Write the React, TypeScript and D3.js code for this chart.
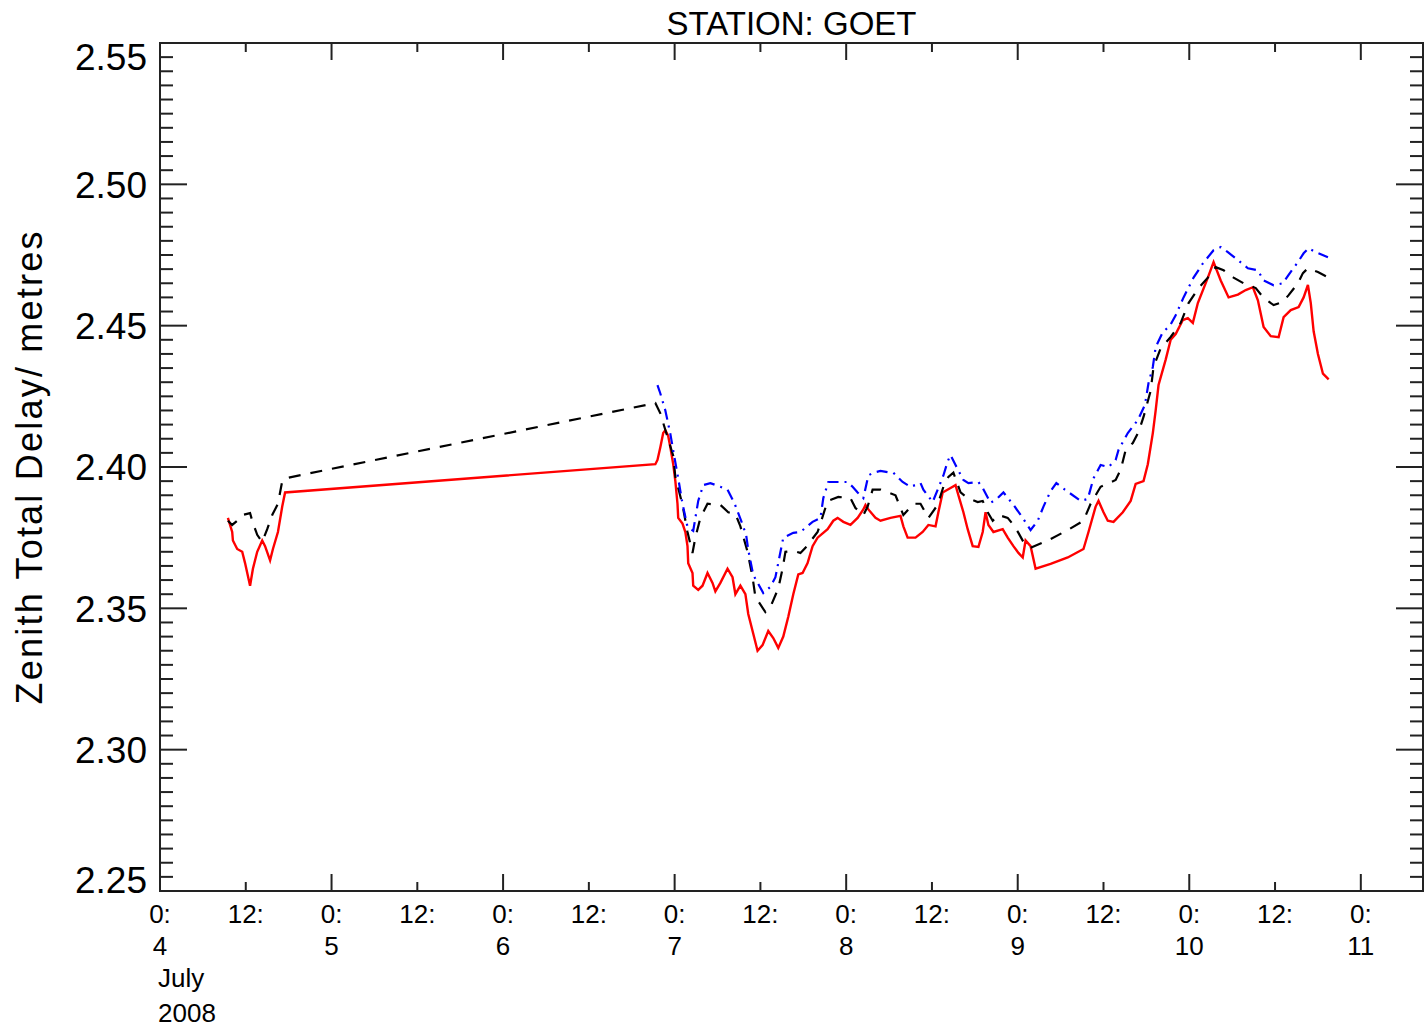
import React from 'react'
import * as d3 from 'd3'

// hours since 2008-07-04 00:00, zenith total delay in metres
const redSeries: [number, number][] = [
  [9.5, 2.382], [10.1, 2.377], [10.2, 2.374], [10.8, 2.371], [11.5, 2.370], [11.9, 2.366],
  [12.6, 2.358], [13.0, 2.364], [13.6, 2.370], [14.3, 2.374], [14.7, 2.372], [15.4, 2.367],
  [15.8, 2.371], [16.5, 2.377], [17.1, 2.386], [17.5, 2.391], [69.3, 2.401], [69.6, 2.4025],
  [70.0, 2.407], [70.4, 2.412], [70.7, 2.413], [71.1, 2.411], [71.4, 2.407], [71.8, 2.401],
  [72.1, 2.395], [72.4, 2.387], [72.5, 2.382], [73.1, 2.380], [73.5, 2.377], [73.8, 2.372],
  [73.9, 2.366], [74.5, 2.3625], [74.6, 2.358], [75.3, 2.3565], [75.9, 2.358], [76.6, 2.3625],
  [77.3, 2.359], [77.7, 2.356], [78.4, 2.359], [79.4, 2.364], [80.1, 2.361], [80.5, 2.355],
  [81.2, 2.358], [81.9, 2.355], [82.3, 2.348], [83.0, 2.341], [83.6, 2.335], [84.3, 2.337],
  [85.1, 2.342], [85.8, 2.3395], [86.5, 2.336], [87.2, 2.340], [87.9, 2.347], [88.6, 2.355],
  [89.3, 2.362], [89.9, 2.3625], [90.6, 2.366], [91.3, 2.372], [92.0, 2.375], [93.4, 2.378],
  [94.2, 2.381], [94.8, 2.382], [95.6, 2.3806], [96.6, 2.3795], [97.6, 2.382], [98.4, 2.385],
  [98.7, 2.3866], [99.1, 2.385], [100.1, 2.382], [100.8, 2.381], [102.2, 2.382], [103.6, 2.3827],
  [104.0, 2.379], [104.6, 2.375], [105.7, 2.375], [106.7, 2.377], [107.5, 2.3795], [108.5, 2.379],
  [108.9, 2.384], [109.5, 2.391], [110.6, 2.3926], [111.3, 2.3936], [111.7, 2.390], [112.4, 2.384],
  [113.0, 2.378], [113.7, 2.372], [114.5, 2.3717], [115.1, 2.377], [115.5, 2.384], [115.9, 2.3795],
  [116.6, 2.377], [117.9, 2.378], [118.6, 2.375], [119.4, 2.372], [120.1, 2.3696], [120.7, 2.368],
  [121.1, 2.374], [121.8, 2.372], [122.5, 2.364], [124.6, 2.3657], [127.0, 2.368], [129.2, 2.371],
  [129.9, 2.377], [130.9, 2.386], [131.3, 2.388], [132.0, 2.384], [132.6, 2.381], [133.4, 2.3806],
  [134.7, 2.384], [135.8, 2.388], [136.5, 2.394], [137.6, 2.395], [138.2, 2.401], [138.9, 2.412],
  [139.3, 2.420], [139.7, 2.429], [140.7, 2.438], [141.4, 2.445], [142.1, 2.447], [143.1, 2.452],
  [143.8, 2.4527], [144.5, 2.451], [145.2, 2.458], [146.6, 2.467], [147.4, 2.4725], [148.4, 2.466],
  [149.5, 2.460], [150.8, 2.461], [151.9, 2.4626], [152.9, 2.4636], [153.6, 2.459], [154.4, 2.4495],
  [155.4, 2.4463], [156.5, 2.4459], [157.2, 2.453], [158.2, 2.4555], [159.3, 2.4566], [160.0, 2.460],
  [160.6, 2.4644], [161.0, 2.458], [161.4, 2.448], [162.0, 2.440], [162.7, 2.433], [163.5, 2.431],
]

const blackSeries: [number, number][] = [
  [9.5, 2.381], [10.1, 2.3795], [10.8, 2.381], [11.5, 2.383], [12.6, 2.3837], [12.9, 2.381],
  [13.6, 2.376], [14.3, 2.3735], [15.0, 2.378], [15.7, 2.383], [16.5, 2.387], [17.1, 2.395],
  [17.5, 2.396], [69.3, 2.4226], [70.0, 2.419], [70.4, 2.4156], [71.8, 2.404], [72.1, 2.3965],
  [73.1, 2.3866], [73.8, 2.377], [74.5, 2.3696], [74.9, 2.375], [75.6, 2.382], [76.6, 2.387],
  [78.4, 2.3866], [79.5, 2.384], [80.5, 2.3834], [81.2, 2.379], [82.2, 2.370], [82.9, 2.361],
  [83.3, 2.354], [84.7, 2.3487], [85.4, 2.3505], [86.5, 2.357], [87.1, 2.364], [87.5, 2.370],
  [88.6, 2.3703], [89.6, 2.3696], [90.3, 2.3714], [92.0, 2.377], [92.4, 2.380], [93.4, 2.388],
  [94.9, 2.3894], [96.6, 2.389], [97.3, 2.3855], [98.4, 2.383], [99.0, 2.386], [99.7, 2.392],
  [100.8, 2.392], [102.9, 2.390], [104.0, 2.383], [105.4, 2.387], [106.4, 2.387], [107.5, 2.382],
  [108.8, 2.3866], [109.6, 2.393], [110.3, 2.3965], [111.0, 2.398], [112.0, 2.391], [113.0, 2.389],
  [114.4, 2.3876], [115.1, 2.388], [115.8, 2.384], [116.5, 2.381], [117.3, 2.383], [118.6, 2.382],
  [119.4, 2.3795], [120.1, 2.3767], [120.8, 2.3735], [121.8, 2.3714], [124.2, 2.374], [127.0, 2.3777],
  [129.2, 2.381], [130.2, 2.387], [131.6, 2.393], [133.7, 2.3954], [134.4, 2.399], [135.1, 2.406],
  [136.1, 2.4085], [136.9, 2.4124], [137.6, 2.4177], [138.6, 2.427], [139.0, 2.4354], [140.0, 2.442],
  [141.4, 2.446], [142.8, 2.451], [143.9, 2.458], [145.3, 2.4633], [146.6, 2.467], [147.7, 2.4707],
  [148.8, 2.4696], [150.2, 2.467], [151.6, 2.465], [153.3, 2.4633], [154.4, 2.4598], [155.8, 2.4573],
  [157.1, 2.4584], [157.9, 2.4608], [159.2, 2.465], [159.9, 2.4686], [160.6, 2.4703], [162.0, 2.469],
  [163.5, 2.467],
]

const blueSeries: [number, number][] = [
  [69.6, 2.429], [70.0, 2.426], [70.7, 2.420], [71.4, 2.4117], [72.0, 2.403], [72.5, 2.396],
  [73.1, 2.387], [73.8, 2.3788], [74.6, 2.3774], [75.3, 2.388], [76.0, 2.3936], [77.0, 2.3943],
  [78.4, 2.393], [79.4, 2.392], [80.4, 2.387], [81.3, 2.381], [82.0, 2.376], [82.3, 2.3707],
  [83.0, 2.3618], [84.4, 2.3554], [85.4, 2.3576], [86.1, 2.361], [87.2, 2.375], [88.6, 2.3767],
  [89.6, 2.377], [91.3, 2.3806], [92.4, 2.382], [92.8, 2.389], [93.5, 2.3947], [96.2, 2.3947],
  [96.9, 2.393], [97.6, 2.391], [98.4, 2.389], [99.1, 2.397], [99.8, 2.398], [100.8, 2.3986],
  [102.2, 2.398], [102.6, 2.398], [103.9, 2.3947], [105.0, 2.393], [106.4, 2.3943], [106.8, 2.392],
  [108.1, 2.3876], [108.9, 2.3926], [109.6, 2.397], [110.2, 2.402], [110.6, 2.4042], [111.3, 2.4007],
  [112.4, 2.3954], [113.1, 2.3943], [114.5, 2.3947], [115.1, 2.3926], [116.2, 2.3873], [117.2, 2.389],
  [118.0, 2.391], [119.4, 2.3866], [120.7, 2.382], [121.8, 2.3777], [122.8, 2.381], [123.6, 2.386],
  [124.6, 2.3915], [125.4, 2.3943], [126.6, 2.392], [128.8, 2.388], [129.8, 2.3887], [130.6, 2.396],
  [131.6, 2.4007], [132.7, 2.400], [133.7, 2.4025], [134.1, 2.406], [135.4, 2.412], [136.8, 2.4166],
  [137.8, 2.422], [138.3, 2.4297], [138.9, 2.4354], [139.3, 2.4424], [140.3, 2.4477], [141.3, 2.450],
  [142.1, 2.4537], [143.2, 2.460], [144.6, 2.467], [145.9, 2.472], [146.6, 2.4742], [147.4, 2.4767],
  [148.4, 2.4778], [149.4, 2.476], [150.8, 2.4732], [152.2, 2.4703], [153.6, 2.4696], [154.4, 2.466],
  [155.8, 2.4643], [157.1, 2.465], [157.9, 2.468], [159.2, 2.4725], [160.0, 2.4756], [160.7, 2.4774],
  [161.7, 2.476], [163.4, 2.4742],
]

const title = 'STATION: GOET'
const yTitle = 'Zenith Total Delay/ metres'
const yMajorTicks = [2.25, 2.30, 2.35, 2.40, 2.45, 2.50, 2.55]
const xTickHours = [0, 12, 24, 36, 48, 60, 72, 84, 96, 108, 120, 132, 144, 156, 168]
const dayLabels = ['4', '5', '6', '7', '8', '9', '10', '11']
const monthLabels = ['July', '2008']

const W = 1424
const H = 1027
const left = 160
const right = 1423
const top = 43
const bottom = 891
const font = '"Liberation Sans", Arial, sans-serif'

export default function App() {
  const x = d3.scaleLinear().domain([0, 176.7]).range([left, right])
  const y = d3.scaleLinear().domain([2.25, 2.55]).range([bottom, top])
  const line = d3.line<[number, number]>().x(d => x(d[0])).y(d => y(d[1]))
  const minor = d3.range(0, 61).map(i => 2.25 + i * 0.005)

  return (
    <svg width={W} height={H} style={{ position: 'absolute', left: 0, top: 0, background: '#fff' }}>
      <rect x={0} y={0} width={W} height={H} fill="#fff" />
      <text x={(left + right) / 2} y={35} textAnchor="middle" fontFamily={font} fontSize={33}>{title}</text>

      <path d={line(redSeries) ?? ''} fill="none" stroke="#ff0000" strokeWidth={2.4} />
      <path d={line(blackSeries) ?? ''} fill="none" stroke="#000" strokeWidth={2.2} strokeDasharray="12 10" />
      <path d={line(blueSeries) ?? ''} fill="none" stroke="#0000ff" strokeWidth={2.2} strokeDasharray="11 6 2 6" />

      <rect x={left} y={top} width={right - left} height={bottom - top} fill="none" stroke="#222" strokeWidth={2} />

      {minor.map((v, i) => {
        const len = i % 10 === 0 ? 27 : 13
        return (
          <g key={'yt' + i} stroke="#222" strokeWidth={2}>
            <line x1={left} x2={left + len} y1={y(v)} y2={y(v)} />
            <line x1={right} x2={right - len} y1={y(v)} y2={y(v)} />
          </g>
        )
      })}
      {yMajorTicks.map(v => (
        <text key={'yl' + v} x={147} y={Math.max(top + 14, Math.min(bottom - 11, y(v)))} dy="0.36em"
          textAnchor="end" fontFamily={font} fontSize={37}>{v.toFixed(2)}</text>
      ))}

      {xTickHours.map(h => {
        const len = h % 24 === 0 ? 17 : 9
        return (
          <g key={'xt' + h}>
            <line x1={x(h)} x2={x(h)} y1={bottom} y2={bottom - len} stroke="#222" strokeWidth={2} />
            <line x1={x(h)} x2={x(h)} y1={top} y2={top + len} stroke="#222" strokeWidth={2} />
            <text x={x(h)} y={923} textAnchor="middle" fontFamily={font} fontSize={26}>{`${h % 24}:`}</text>
            {h % 24 === 0 && (
              <text x={x(h)} y={955} textAnchor="middle" fontFamily={font} fontSize={26}>{dayLabels[h / 24]}</text>
            )}
          </g>
        )
      })}
      {monthLabels.map((t, i) => (
        <text key={t} x={158} y={987 + i * 35} fontFamily={font} fontSize={26}>{t}</text>
      ))}

      <text transform={`translate(42,468) rotate(-90)`} textAnchor="middle" fontFamily={font} fontSize={36}
        textLength={473} lengthAdjust="spacing">{yTitle}</text>
    </svg>
  )
}
